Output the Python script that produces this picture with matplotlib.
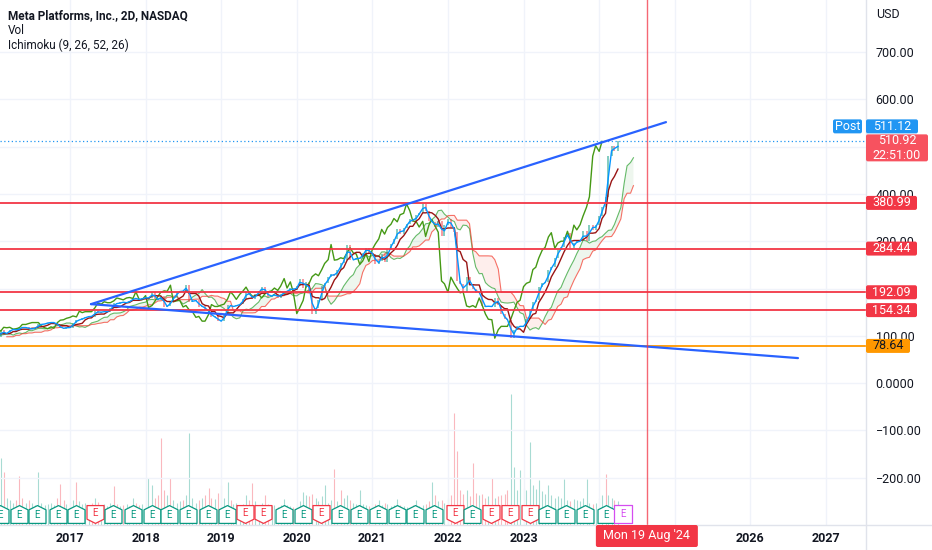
import numpy as np
import pandas as pd
import matplotlib
matplotlib.use('Agg')
import matplotlib.pyplot as plt
import matplotlib.transforms as mtransforms
from matplotlib.path import Path
from matplotlib.patches import FancyBboxPatch
from matplotlib.lines import Line2D

plt.rcParams['font.family'] = ['Roboto', 'DejaVu Sans']

# ---------------- data ----------------
start_date = '2015-08-01'          # semi-monthly closes (1st / 15th of month)
closes = [
    94, 94, 89, 92, 90, 97, 102, 107, 106, 105,                                                    # 2015 Aug-Dec
    105, 97, 112, 103, 107, 112, 115, 110, 118, 117, 118, 114, 115, 117, 124, 124, 126, 128, 128, 128, 121, 117, 115, 119,  # 2016
    116, 128, 133, 134, 137, 139, 142, 140, 152, 149, 151, 151, 151, 159, 169, 167, 172, 170, 170, 174, 180, 178, 176, 180,  # 2017
    181, 179, 193, 177, 176, 185, 160, 164, 173, 183, 192, 195, 194, 207, 172, 174, 175, 161, 164, 154, 151, 139, 141, 131,  # 2018
    131, 145, 166, 162, 162, 165, 167, 178, 193, 186, 177, 188, 194, 203, 192, 183, 185, 188, 180, 189, 193, 195, 201, 196,  # 2019
    205, 221, 201, 214, 192, 147, 159, 175, 205, 211, 225, 231, 227, 240, 253, 261, 293, 260, 261, 265, 263, 276, 286, 275,  # 2020
    273, 251, 258, 273, 257, 283, 294, 305, 325, 315, 329, 336, 348, 341, 356, 359, 379, 364, 343, 341, 330, 342, 310, 334,  # 2021
    346, 331, 319, 216, 210, 192, 224, 210, 200, 191, 193, 163, 161, 164, 160, 180, 165, 146, 135, 134, 95, 113, 120, 120,   # 2022
    120, 136, 153, 171, 175, 204, 211, 214, 240, 245, 264, 281, 287, 309, 318, 285, 296, 300, 300, 321, 301, 334, 324, 335,  # 2023
    353, 372, 394, 480, 502, 490, 511,                                                              # 2024 Jan-Apr
]
volumes = [
    50, 55, 60, 50, 45, 55, 50, 45, 40, 45,
    60, 55, 134, 106, 55, 50, 45, 50, 98, 55, 45, 50, 45, 40, 106, 45, 40, 42, 45, 40, 55, 82, 50, 42,
    45, 50, 86, 48, 42, 45, 40, 44, 55, 46, 40, 42, 38, 45, 78, 42, 38, 40, 42, 38, 55, 45, 40, 42,
    50, 94, 80, 55, 60, 174, 70, 60, 94, 50, 45, 48, 50, 60, 184, 55, 45, 50, 55, 60, 74, 55, 52, 65,
    80, 55, 86, 50, 42, 45, 40, 42, 60, 50, 84, 48, 40, 45, 60, 42, 38, 40, 36, 40, 52, 40, 38, 36,
    42, 48, 66, 60, 58, 62, 55, 48, 58, 80, 45, 50, 112, 48, 70, 55, 60, 50, 45, 42, 70, 42, 40, 38,
    45, 42, 50, 40, 45, 42, 38, 40, 52, 40, 38, 36, 35, 40, 50, 38, 40, 42, 48, 86, 60, 48, 50, 45,
    55, 60, 224, 148, 70, 62, 70, 58, 124, 65, 60, 62, 55, 58, 94, 55, 58, 60, 62, 70, 262, 116, 70, 110,
    75, 70, 166, 80, 72, 90, 68, 62, 80, 60, 55, 58, 55, 92, 50, 48, 52, 50, 48, 55, 92, 45, 42, 45,
    55, 60, 102, 60, 55, 50, 48,
]
vol_dir_override = {12: 'u', 13: 'd', 18: 'd', 24: 'u', 31: 'd', 36: 'd', 48: 'd',
                    59: 'u', 60: 'u', 63: 'd', 66: 'd', 72: 'u', 78: 'd',
                    82: 'd', 84: 'u', 92: 'd', 108: 'u', 115: 'u', 118: 'd', 120: 'd', 126: 'u',
                    149: 'u', 156: 'd', 157: 'd', 160: 'u', 162: 'd', 168: 'd', 174: 'u', 175: 'u', 177: 'u',
                    180: 'u', 183: 'u', 186: 'u', 191: 'u', 198: 'u', 204: 'd'}

title = 'Meta Platforms, Inc., 2D, NASDAQ'
legend_lines = ['Vol', 'Ichimoku (9, 26, 52, 26)']
red_levels = [380.99, 284.44, 192.09, 154.34]
red_level_labels = ['380.99', '284.44', '192.09', '154.34']
orange_level = 78.64
orange_label = '78.64'
post_price = 511.12
last_close = 510.92
countdown = '22:51:00'
upper_trend_x = [2017.278, 2024.884]
upper_trend_y = [167.0, 551.8]
lower_trend_x = [2017.278, 2026.630]
lower_trend_y = [167.0, 52.9]
earnings_dates = ['2016-01-27', '2016-04-27', '2016-07-27', '2016-11-02',
                  '2017-02-01', '2017-05-03', '2017-07-26', '2017-11-01',
                  '2018-01-31', '2018-04-25', '2018-07-25', '2018-10-30',
                  '2019-01-30', '2019-04-24', '2019-07-24', '2019-10-30',
                  '2020-01-29', '2020-04-29', '2020-07-30', '2020-10-29',
                  '2021-01-27', '2021-04-28', '2021-07-28', '2021-10-25',
                  '2022-02-02', '2022-04-27', '2022-07-27', '2022-10-26',
                  '2023-02-01', '2023-04-26', '2023-07-26', '2023-10-25',
                  '2024-02-01', '2024-04-24']
earnings_kind = 'gggggrgggggggrrggrggggggrgrrrggggp'
cursor_date = '2024-08-19'
cursor_label = "Mon 19 Aug '24"
year_ticks = [2017, 2018, 2019, 2020, 2021, 2022, 2023, 2026, 2027]
grid_years = list(range(2017, 2028))
grid_prices = [700, 600, 500, 400, 300, 200, 100, 0, -100, -200]
price_ticks = [700, 600, 400, 300, 100, 0, -100, -200]
price_tick_labels = ['700.00', '600.00', '400.00', '300.00',
                     '100.00', '0.0000', '\u2212100.00', '\u2212200.00']

# Ichimoku periods expressed in semi-monthly samples (9, 26, 52, 26 two-day bars)
TENKAN, KIJUN, SENKOU, DISP = 2, 5, 10, 5

# ---------------- styles ----------------
TXT = '#131722'
GREEN = '#089981'
RED = '#F23645'
GRID = '#F0F3FA'


def dyear(ts):
    ts = pd.Timestamp(ts)
    n = 366 if ts.is_leap_year else 365
    return ts.year + (ts.dayofyear - 1) / n


W, H, DPI = 932, 550, 100
PANE_R, PANE_B = 866, 25
fig = plt.figure(figsize=(W / DPI, H / DPI), dpi=DPI, facecolor='white')
ax = fig.add_axes([0, PANE_B / H, PANE_R / W, 1 - PANE_B / H])
ax.set_xlim(2016.074, 2027.53)
ax.set_ylim(-300, 810)
ax.patch.set_visible(False)
for s in ax.spines.values():
    s.set_visible(False)

n = len(closes)
dates = pd.date_range(start_date, periods=n + DISP, freq='SMS')
x_all = np.array([dyear(d) for d in dates])
x = x_all[:n]
c = pd.Series(closes, dtype=float)


def mid(s, w):
    return (s.rolling(w).max() + s.rolling(w).min()) / 2


tenkan = mid(c, TENKAN).values
kijun = mid(c, KIJUN).values
span_a = ((mid(c, TENKAN) + mid(c, KIJUN)) / 2).values
span_b = mid(c, SENKOU).values
lead_x = x_all[DISP:DISP + n]

# grid
for p in grid_prices:
    ax.axhline(p, color=GRID, lw=1.0, zorder=0)
for yr in grid_years:
    ax.axvline(yr, color=GRID, lw=1.0, zorder=0)

# volume (overlay pane, behind)
vax = ax.twinx()
vax.set_ylim(0, 1050)
vax.axis('off')
vax.set_zorder(ax.get_zorder() - 1)
ax.set_zorder(vax.get_zorder() + 1)
dirs = ['u'] + ['u' if closes[i] >= closes[i - 1] else 'd' for i in range(1, n)]
for k, v in vol_dir_override.items():
    dirs[k] = v
vcols = [GREEN if d == 'u' else RED for d in dirs]
vax.vlines(x, 0, volumes, colors=vcols, lw=0.8, alpha=0.35)

# cloud
ok = ~np.isnan(span_a) & ~np.isnan(span_b)
ax.fill_between(lead_x[ok], span_a[ok], span_b[ok], where=span_a[ok] >= span_b[ok],
                interpolate=True, color='#43A047', alpha=0.09, lw=0, zorder=1)
ax.fill_between(lead_x[ok], span_a[ok], span_b[ok], where=span_a[ok] < span_b[ok],
                interpolate=True, color='#F44336', alpha=0.09, lw=0, zorder=1)
ax.plot(lead_x, span_a, color='#4CAF50', lw=0.8, alpha=0.85, zorder=2)
ax.plot(lead_x, span_b, color='#F44336', lw=0.8, alpha=0.75, zorder=2)

# candles (close-to-close bodies)
lo = np.minimum(c.values[:-1], c.values[1:])
hi = np.maximum(c.values[:-1], c.values[1:])
ccols = [GREEN if c.values[i] >= c.values[i - 1] else RED for i in range(1, n)]
ax.vlines(x[1:], lo, hi, colors=ccols, lw=1.4, alpha=0.5, zorder=3)

# ichimoku lines
ax.plot(x[:n - DISP], c.values[DISP:], color='#459915', lw=1.0, zorder=4)
ax.plot(x, kijun, color='#991515', lw=1.0, zorder=4)
ax.plot(x, tenkan, color='#0496FF', lw=1.0, zorder=4)

# levels
for v in red_levels:
    ax.axhline(v, color=RED, lw=1.3, zorder=5)
ax.axhline(orange_level, color='#FF9800', lw=1.3, zorder=5)
ax.axhline(post_price, color='#2196F3', lw=0.9, ls=(0, (1, 2)), zorder=5)

# trendlines
ax.plot(upper_trend_x, upper_trend_y, color='#2962FF', lw=1.6, zorder=6, solid_capstyle='round')
ax.plot(lower_trend_x, lower_trend_y, color='#2962FF', lw=1.6, zorder=6, solid_capstyle='round')

# cursor line
cx = dyear(cursor_date)
ax.axvline(cx, color=RED, lw=1.0, alpha=0.75, zorder=6)

# earnings markers
blend = mtransforms.blended_transform_factory(ax.transData, ax.transAxes)
up_path = Path([(-1, -1.05), (1, -1.05), (1, 0.55), (0, 1.05), (-1, 0.55), (-1, -1.05)], closed=True)
dn_path = Path([(-1, 1.05), (1, 1.05), (1, -0.55), (0, -1.05), (-1, -0.55), (-1, 1.05)], closed=True)
sq_path = Path([(-1, -1), (1, -1), (1, 1), (-1, 1), (-1, -1)], closed=True)
EY = 11 / 525
for d, k in zip(earnings_dates, earnings_kind):
    ex = dyear(d)
    if k == 'g':
        path, col, dy, sz = up_path, GREEN, -1.5, 165
    elif k == 'r':
        path, col, dy, sz = dn_path, RED, 1.5, 165
    else:
        path, col, dy, sz = sq_path, '#D54DF0', 0, 150
    ax.scatter([ex], [EY], marker=path, s=sz, facecolor='white', edgecolor=col,
               linewidths=0.9, transform=blend, zorder=8)
    ax.text(ex, EY, 'E', transform=mtransforms.offset_copy(blend, fig, y=dy, units='dots'),
            ha='center', va='center', fontsize=7, color=col, zorder=9, clip_on=True)

# axes ticks
ax.yaxis.tick_right()
ax.set_yticks(price_ticks)
ax.set_yticklabels(price_tick_labels)
ax.tick_params(axis='y', length=0, pad=7, labelsize=9, labelcolor=TXT)
ax.set_xticks(year_ticks)
ax.set_xticklabels([str(y) for y in year_ticks])
ax.tick_params(axis='x', length=0, pad=5, labelsize=9, labelcolor=TXT)
for lbl in ax.get_xticklabels():
    lbl.set_fontweight('bold')

# separators
fig.add_artist(Line2D([0, 1], [PANE_B / H, PANE_B / H], transform=fig.transFigure, color='#E0E3EB', lw=1))
fig.add_artist(Line2D([PANE_R / W, PANE_R / W], [0, 1], transform=fig.transFigure, color='#E0E3EB', lw=1))

# legend text
fig.text(8 / W, 1 - 16 / H, title, fontsize=8.5, fontweight='bold', color=TXT, va='center')
for i, t in enumerate(legend_lines):
    fig.text(8 / W, 1 - (31 + 14.5 * i) / H, t, fontsize=8.5, color=TXT, va='center')
fig.text(876 / W, 1 - 15 / H, 'USD', fontsize=9, color=TXT, va='center')

ID = mtransforms.IdentityTransform()


def ypix(v):
    return ax.transData.transform((2020, v))[1]


def box(x0, x1, yc, h, color, text, tcolor='white', fs=9, ls=1.2):
    p = FancyBboxPatch((x0, yc - h / 2), x1 - x0, h, boxstyle='round,pad=0,rounding_size=2',
                       transform=ID, fc=color, ec='none', zorder=20)
    fig.add_artist(p)
    fig.text((x0 + x1) / 2, yc, text, transform=ID, ha='center', va='center',
             fontsize=fs, color=tcolor, zorder=21, linespacing=ls)


for v, t in zip(red_levels, red_level_labels):
    box(866, 917, ypix(v), 14, RED, t)
box(866, 910, ypix(orange_level), 14, '#FF9800', orange_label, tcolor=TXT)
yp = ypix(post_price)
box(833, 862, yp + 15, 14, '#2196F3', 'Post')
box(866, 918, yp + 15, 14, '#2196F3', f'{post_price:.2f}')
box(866, 928, yp - 6.5, 27, '#F7525F', f'{last_close:.2f}\n{countdown}')

# cursor date label
cpx = ax.transData.transform((cx, 0))[0]
box(cpx - 51, cpx + 51, 14, 22, RED, cursor_label)

fig.savefig('out.png', dpi=DPI, facecolor='white')
